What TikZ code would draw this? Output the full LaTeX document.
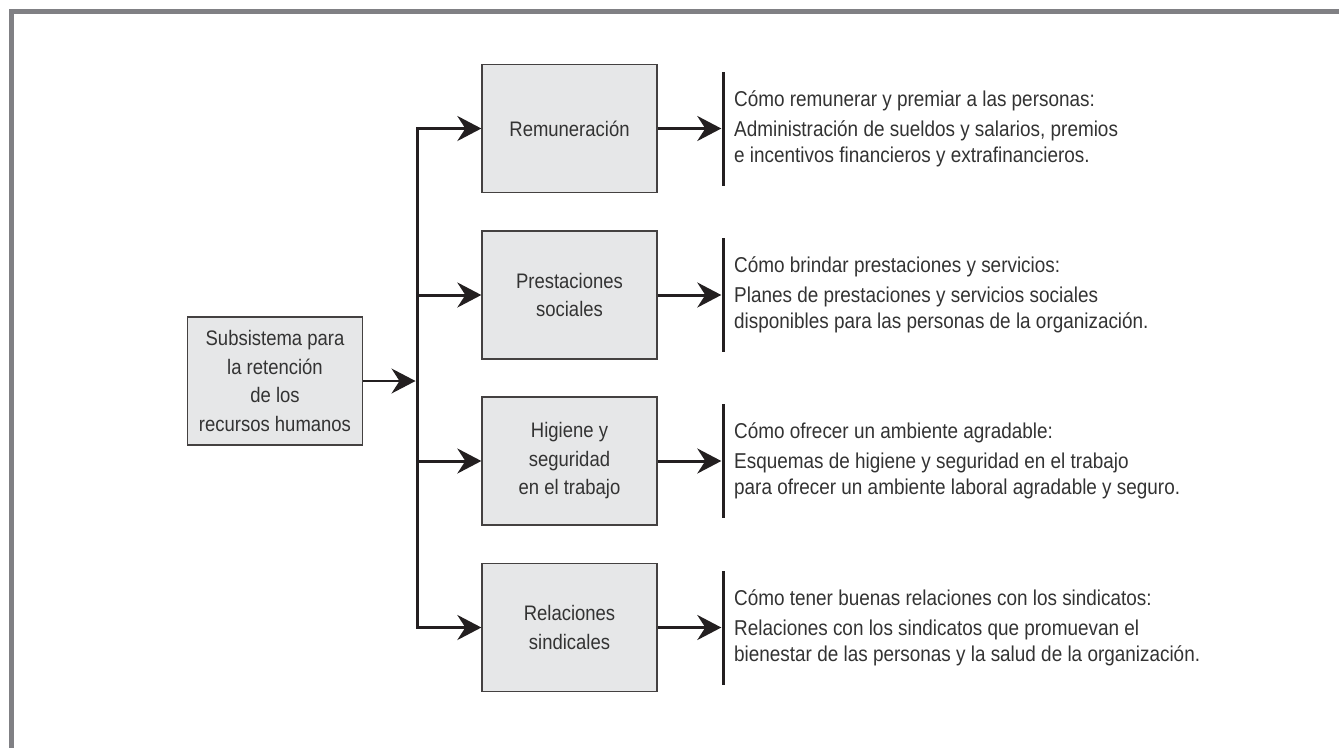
\documentclass[tikz,border=0pt]{standalone}
\usepackage{fontspec}
\setmainfont{Liberation Sans}[FakeStretch=0.88]
\usetikzlibrary{arrows.meta}
\definecolor{framec}{HTML}{808084}
\definecolor{boxfill}{HTML}{E6E7E8}
\definecolor{linec}{HTML}{231F20}
\definecolor{textc}{HTML}{333333}
\tikzset{
  box/.style={draw=linec!85, fill=boxfill, line width=1.3pt, minimum width=175pt,
    minimum height=128pt, align=center, text=textc, inner sep=0pt,
    font=\fontsize{21}{28.5}\selectfont},
  bar/.style={fill=linec, draw=none, minimum width=3pt, minimum height=114pt, inner sep=0pt},
  conn/.style={draw=linec, line width=3pt, -{Stealth[length=24pt,width=25pt,inset=8pt]}},
  thinconn/.style={draw=linec, line width=1.3pt, -{Stealth[length=24pt,width=25pt,inset=8pt]}},
  trunk/.style={draw=linec, line width=3pt, line cap=rect},
  desc/.style={anchor=base west, text=textc, inner sep=0pt, font=\fontsize{21.5}{26}\selectfont},
}
\begin{document}
\begin{tikzpicture}[x=1pt,y=-1pt]
\useasboundingbox (0,0) rectangle (1339,748);
\fill[white] (0,0) rectangle (1339,748);
\fill[framec] (9,9) rectangle (1339,14);
\fill[framec] (9,9) rectangle (14,748);

% boxes
\node[box] (sub) at (275,381) {Subsistema para\\la retención\\de los\\recursos humanos};
\node[box] (rem) at (569.5,128.5) {Remuneración};
\node[box] (pre) at (569.5,295) {Prestaciones\\sociales};
\node[box] (hig) at (569.5,461) {Higiene y\\seguridad\\en el trabajo};
\node[box] (rel) at (569.5,627.5) {Relaciones\\sindicales};

% trunk
\coordinate (t1) at (417,128.5);
\coordinate (t4) at (417,627.5);
\draw[trunk] (t1) -- (t4);
\draw[thinconn, shorten >=1.5pt] (sub.east) -- (sub.east -| t1);
\draw[conn] (t1) -- (rem.west);
\draw[conn] (pre.west -| t1) -- (pre.west);
\draw[conn] (hig.west -| t1) -- (hig.west);
\draw[conn] (t4) -- (rel.west);

% bars
\node[bar] (b1) at (723,129) {};
\node[bar] (b2) at (723,295) {};
\node[bar] (b3) at (723,461) {};
\node[bar] (b4) at (723,628) {};
\draw[conn] (rem.east) -- (rem.east -| b1.west);
\draw[conn] (pre.east) -- (pre.east -| b2.west);
\draw[conn] (hig.east) -- (hig.east -| b3.west);
\draw[conn] (rel.east) -- (rel.east -| b4.west);

% descriptions
\node[desc] (d1h) at (734,106) {Cómo remunerar y premiar a las personas:};
\node[desc] (d1a) at (734,136) {Administración de sueldos y salarios, premios};
\node[desc] (d1b) at (734,162) {e incentivos financieros y extrafinancieros.};

\node[desc] (d2h) at (734,272) {Cómo brindar prestaciones y servicios:};
\node[desc] (d2a) at (734,302) {Planes de prestaciones y servicios sociales};
\node[desc] (d2b) at (734,328) {disponibles para las personas de la organización.};

\node[desc] (d3h) at (734,438) {Cómo ofrecer un ambiente agradable:};
\node[desc] (d3a) at (734,468) {Esquemas de higiene y seguridad en el trabajo};
\node[desc] (d3b) at (734,494) {para ofrecer un ambiente laboral agradable y seguro.};

\node[desc] (d4h) at (734,605) {Cómo tener buenas relaciones con los sindicatos:};
\node[desc] (d4a) at (734,635) {Relaciones con los sindicatos que promuevan el};
\node[desc] (d4b) at (734,661) {bienestar de las personas y la salud de la organización.};
\end{tikzpicture}
\end{document}
